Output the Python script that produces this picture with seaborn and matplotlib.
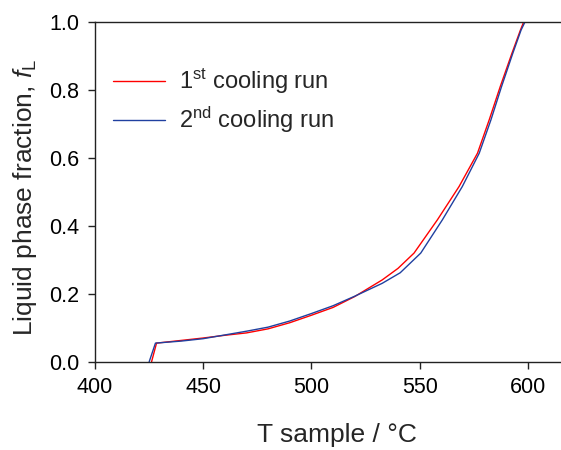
import numpy as np
import pandas as pd
import matplotlib
matplotlib.use("Agg")
import matplotlib.pyplot as plt
import seaborn as sns

# values
t_run1 = [426.2, 428.5, 440, 450, 460, 470, 480, 490, 500, 510, 520, 532.7,
          540, 547.4, 558.2, 568.2, 576.7, 582.1, 587.2, 592.6, 596.5, 598.0]
f_run1 = [0.0, 0.055, 0.063, 0.070, 0.078, 0.085, 0.097, 0.115, 0.137, 0.160,
          0.192, 0.241, 0.275, 0.320, 0.418, 0.516, 0.614, 0.712, 0.810, 0.908,
          0.976, 1.0]

t_run2 = [425.1, 428.0, 440, 450, 460, 470, 480, 490, 500, 510, 520, 532.7,
          541, 550.5, 560.5, 569.7, 577.5, 582.9, 587.8, 593.0, 596.8, 598.6]
f_run2 = [0.0, 0.055, 0.061, 0.068, 0.079, 0.090, 0.102, 0.120, 0.142, 0.165,
          0.193, 0.231, 0.262, 0.320, 0.418, 0.516, 0.614, 0.712, 0.810, 0.908,
          0.976, 1.0]

run_labels = ["1$^{\\mathregular{st}}$ cooling run", "2$^{\\mathregular{nd}}$ cooling run"]

df = pd.concat([
    pd.DataFrame({"T": t_run1, "f": f_run1, "run": run_labels[0]}),
    pd.DataFrame({"T": t_run2, "f": f_run2, "run": run_labels[1]}),
])

sns.set_style("ticks")
plt.rcParams["font.family"] = ["Liberation Sans", "DejaVu Sans"]
plt.rcParams["mathtext.fontset"] = "custom"
plt.rcParams["mathtext.rm"] = "Liberation Sans"
plt.rcParams["mathtext.it"] = "Liberation Sans:italic"

fig = plt.figure(figsize=(5.61, 4.5), dpi=100)
ax = fig.add_axes([0.169, 0.196, 0.83, 0.755])

sns.lineplot(data=df, x="T", y="f", hue="run", sort=False, estimator=None,
             palette=["#ff0000", "#2040a0"], linewidth=1.0, ax=ax)

ax.set_xlim(400, 615)
ax.set_ylim(0, 1.0)
ax.set_xticks([400, 450, 500, 550, 600])
ax.set_yticks([0.0, 0.2, 0.4, 0.6, 0.8, 1.0])
ax.set_yticklabels(["0.0", "0.2", "0.4", "0.6", "0.8", "1.0"])
ax.tick_params(direction="out", length=5, width=1, labelsize=15.5, pad=6,
               colors="#222222", labelcolor="black")

for side in ["left", "bottom", "top"]:
    ax.spines[side].set_visible(True)
    ax.spines[side].set_linewidth(1)
    ax.spines[side].set_color("#222222")
ax.spines["right"].set_visible(False)

ax.set_xlabel("T sample / \u00b0C", fontsize=19)
ax.set_ylabel("Liquid phase fraction, $\\mathit{f}_{\\mathregular{L}}$", fontsize=19)
ax.xaxis.set_label_coords(0.52, -0.18)
ax.yaxis.set_label_coords(-0.12, 0.485)

ax.legend(title=None, frameon=False, fontsize=17, loc="upper left",
          bbox_to_anchor=(0.018, 0.895), borderaxespad=0, handlelength=2.2,
          handletextpad=0.6, labelspacing=0.35)

fig.savefig("out.png", dpi=100)
